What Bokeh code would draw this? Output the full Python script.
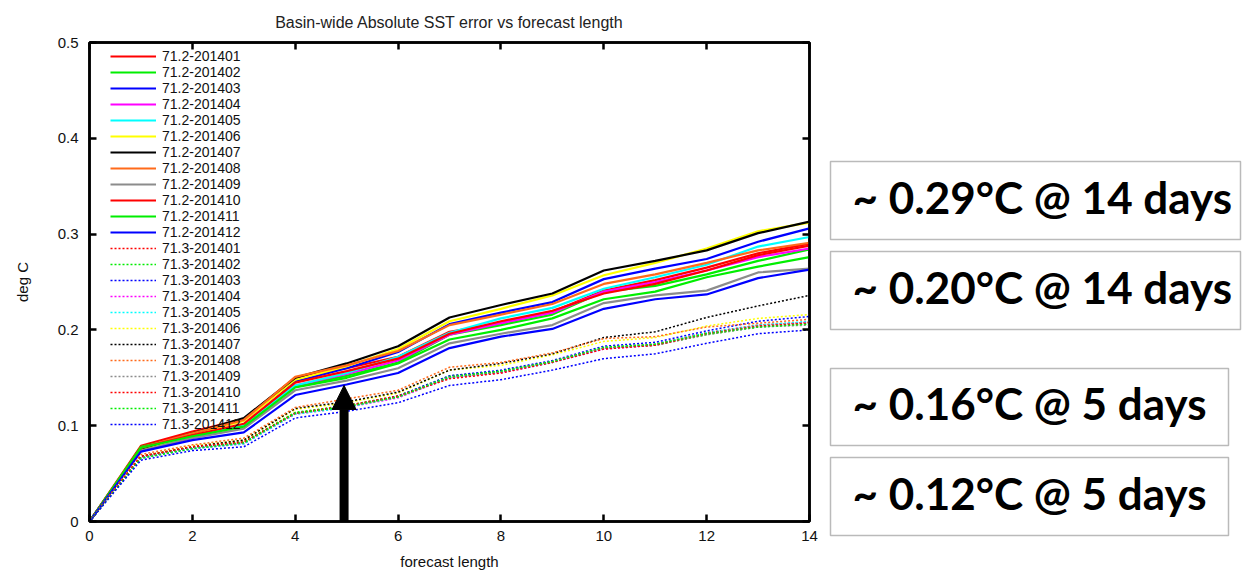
from bokeh.plotting import figure
from bokeh.layouts import row
from bokeh.models import (Range1d, LinearAxis, FixedTicker, Legend, LegendItem,
                          Arrow, NormalHead, Label, BoxAnnotation)
from bokeh.embed import file_html
from bokeh.resources import INLINE

# ---------------- data ----------------
forecast_days = [0, 1, 2, 3, 4, 5, 6, 7, 8, 9, 10, 11, 12, 13, 14]

names_712 = ["71.2-201401", "71.2-201402", "71.2-201403", "71.2-201404",
             "71.2-201405", "71.2-201406", "71.2-201407", "71.2-201408",
             "71.2-201409", "71.2-201410", "71.2-201411", "71.2-201412"]
names_713 = ["71.3-201401", "71.3-201402", "71.3-201403", "71.3-201404",
             "71.3-201405", "71.3-201406", "71.3-201407", "71.3-201408",
             "71.3-201409", "71.3-201410", "71.3-201411", "71.3-201412"]

month_colors = ["#ff0000", "#00ee00", "#0000ff", "#ff00ff", "#00ffff", "#ffff00",
                "#000000", "#ff6a1a", "#8c8c8c", "#ff0000", "#00ee00", "#0000ff"]

err_712 = [
    [0, 0.079, 0.094, 0.107, 0.150, 0.160, 0.172, 0.198, 0.207, 0.219, 0.241, 0.252, 0.265, 0.280, 0.290],
    [0, 0.078, 0.090, 0.101, 0.141, 0.152, 0.166, 0.195, 0.205, 0.216, 0.240, 0.246, 0.258, 0.272, 0.284],
    [0, 0.074, 0.090, 0.100, 0.146, 0.160, 0.177, 0.206, 0.218, 0.229, 0.253, 0.264, 0.274, 0.292, 0.306],
    [0, 0.075, 0.089, 0.100, 0.142, 0.154, 0.168, 0.195, 0.207, 0.218, 0.240, 0.250, 0.262, 0.276, 0.285],
    [0, 0.075, 0.088, 0.101, 0.142, 0.155, 0.172, 0.197, 0.212, 0.223, 0.243, 0.255, 0.268, 0.287, 0.297],
    [0, 0.075, 0.091, 0.105, 0.148, 0.162, 0.180, 0.209, 0.222, 0.236, 0.257, 0.270, 0.285, 0.303, 0.312],
    [0, 0.076, 0.092, 0.108, 0.150, 0.165, 0.183, 0.213, 0.226, 0.238, 0.262, 0.272, 0.283, 0.301, 0.313],
    [0, 0.077, 0.092, 0.106, 0.151, 0.163, 0.178, 0.205, 0.216, 0.227, 0.248, 0.258, 0.270, 0.283, 0.291],
    [0, 0.074, 0.087, 0.097, 0.137, 0.147, 0.160, 0.186, 0.196, 0.205, 0.228, 0.236, 0.241, 0.260, 0.264],
    [0, 0.077, 0.090, 0.102, 0.145, 0.157, 0.170, 0.196, 0.209, 0.220, 0.238, 0.248, 0.262, 0.278, 0.288],
    [0, 0.077, 0.089, 0.099, 0.140, 0.150, 0.165, 0.190, 0.200, 0.212, 0.232, 0.240, 0.255, 0.266, 0.276],
    [0, 0.073, 0.085, 0.093, 0.132, 0.143, 0.155, 0.181, 0.193, 0.201, 0.222, 0.232, 0.237, 0.254, 0.263],
]
err_713 = [
    [0, 0.068, 0.078, 0.083, 0.113, 0.120, 0.130, 0.150, 0.156, 0.167, 0.181, 0.185, 0.197, 0.205, 0.208],
    [0, 0.067, 0.077, 0.083, 0.114, 0.121, 0.131, 0.152, 0.157, 0.167, 0.181, 0.184, 0.195, 0.203, 0.207],
    [0, 0.067, 0.077, 0.082, 0.113, 0.120, 0.131, 0.152, 0.158, 0.168, 0.183, 0.187, 0.199, 0.209, 0.214],
    [0, 0.066, 0.076, 0.081, 0.112, 0.119, 0.129, 0.150, 0.155, 0.166, 0.180, 0.184, 0.196, 0.204, 0.208],
    [0, 0.066, 0.076, 0.081, 0.112, 0.119, 0.130, 0.150, 0.156, 0.166, 0.181, 0.185, 0.197, 0.205, 0.209],
    [0, 0.068, 0.079, 0.085, 0.117, 0.124, 0.134, 0.158, 0.163, 0.174, 0.188, 0.192, 0.204, 0.212, 0.216],
    [0, 0.068, 0.078, 0.085, 0.118, 0.125, 0.135, 0.158, 0.165, 0.175, 0.192, 0.198, 0.213, 0.225, 0.236],
    [0, 0.070, 0.080, 0.087, 0.119, 0.128, 0.137, 0.161, 0.166, 0.176, 0.191, 0.193, 0.203, 0.207, 0.211],
    [0, 0.067, 0.077, 0.082, 0.113, 0.120, 0.130, 0.151, 0.156, 0.167, 0.181, 0.184, 0.195, 0.203, 0.205],
    [0, 0.068, 0.078, 0.083, 0.113, 0.121, 0.131, 0.149, 0.155, 0.166, 0.180, 0.184, 0.196, 0.204, 0.207],
    [0, 0.066, 0.076, 0.082, 0.113, 0.120, 0.130, 0.151, 0.157, 0.167, 0.182, 0.185, 0.196, 0.203, 0.206],
    [0, 0.064, 0.074, 0.078, 0.108, 0.115, 0.124, 0.142, 0.148, 0.158, 0.170, 0.175, 0.186, 0.196, 0.200],
]

x_ticks = [0, 2, 4, 6, 8, 10, 12, 14]
y_ticks = [0, 0.1, 0.2, 0.3, 0.4, 0.5]
y_tick_labels = ["0", "0.1", "0.2", "0.3", "0.4", "0.5"]

callout_texts = ["~ 0.29\u00b0C @ 14 days", "~ 0.20\u00b0C @ 14 days",
                 "~ 0.16\u00b0C @ 5 days", "~ 0.12\u00b0C @ 5 days"]

arrow_day = 4.95
arrow_tip = 0.142

# ---------------- main chart ----------------
FONT = "Liberation Sans"

p = figure(width=818, height=572, x_range=Range1d(0, 14), y_range=Range1d(0, 0.5),
           output_backend="svg", toolbar_location=None,
           min_border_left=89, min_border_right=9, min_border_top=42, min_border_bottom=51,
           title="Basin-wide Absolute SST error vs forecast length")
p.title.align = "center"
p.title.text_font = FONT
p.title.text_font_style = "normal"
p.title.text_font_size = "16px"
p.title.text_color = "#222222"
p.title.standoff = 23

p.xgrid.visible = False
p.ygrid.visible = False
p.outline_line_color = "black"
p.outline_line_width = 2.5
p.background_fill_color = "white"
p.border_fill_color = "white"


def style_axis(ax, ticks, show_labels):
    ax.ticker = FixedTicker(ticks=ticks)
    ax.axis_line_color = "black"
    ax.axis_line_width = 2.5
    ax.major_tick_in = 7
    ax.major_tick_out = 0
    ax.major_tick_line_width = 2.5
    ax.major_tick_line_color = "black"
    ax.minor_tick_line_color = None
    ax.major_label_text_font = FONT
    ax.major_label_text_font_size = "15px"
    ax.major_label_text_color = "#111111"
    if not show_labels:
        ax.major_label_overrides = {t: "" for t in ticks}
        ax.major_label_text_font_size = "1px"
        ax.major_label_standoff = 0


style_axis(p.xaxis[0], x_ticks, True)
style_axis(p.yaxis[0], y_ticks, True)
p.yaxis[0].major_label_overrides = {t: s for t, s in zip(y_ticks, y_tick_labels)}
p.xaxis[0].major_label_standoff = 9
p.yaxis[0].major_label_standoff = 11

p.xaxis[0].axis_label = "forecast length"
p.yaxis[0].axis_label = "deg C"
for ax in (p.xaxis[0], p.yaxis[0]):
    ax.axis_label_text_font = FONT
    ax.axis_label_text_font_style = "normal"
    ax.axis_label_text_font_size = "15px"
    ax.axis_label_text_color = "#111111"
p.xaxis[0].axis_label_standoff = 9
p.yaxis[0].axis_label_standoff = 24

top_ax = LinearAxis()
style_axis(top_ax, x_ticks, False)
p.add_layout(top_ax, "above")
right_ax = LinearAxis()
style_axis(right_ax, y_ticks, False)
p.add_layout(right_ax, "right")

items = []
for name, col, vals in zip(names_712, month_colors, err_712):
    r = p.line(forecast_days, vals, line_color=col, line_width=2.2)
    items.append(LegendItem(label=name, renderers=[r]))
for name, col, vals in zip(names_713, month_colors, err_713):
    r = p.line(forecast_days, vals, line_color=col, line_width=1.5, line_dash="2 2")
    items.append(LegendItem(label=name, renderers=[r]))

legend = Legend(items=items, location=(17, 85), glyph_width=46, glyph_height=16,
                label_height=16, spacing=0, padding=4, margin=0, label_standoff=6,
                label_text_font=FONT, label_text_font_size="14px",
                label_text_color="#111111",
                background_fill_alpha=0, border_line_alpha=0)
p.add_layout(legend)

p.add_layout(Arrow(end=NormalHead(size=24, fill_color="black", line_color="black"),
                   x_start=arrow_day, y_start=0, x_end=arrow_day, y_end=arrow_tip,
                   line_width=9, line_color="black"))

# ---------------- callout panel ----------------
# panel coordinates: x in pixels from panel left, y in pixels from page top
q = figure(width=425, height=572, x_range=Range1d(0, 425), y_range=Range1d(572, 0),
           output_backend="svg", toolbar_location=None,
           min_border_left=0, min_border_right=0, min_border_top=0, min_border_bottom=0)
try:
    q.frame_align = False
except AttributeError:
    pass
q.axis.visible = False
q.xgrid.visible = False
q.ygrid.visible = False
q.outline_line_color = None
q.background_fill_color = "white"
q.border_fill_color = "white"

box_geom = [(12, 422, 161, 239), (12, 422, 251, 329),
            (12, 410, 368, 445), (12, 410, 457, 535)]
for (l, r_, t, b), txt in zip(box_geom, callout_texts):
    q.add_layout(BoxAnnotation(left=l, right=r_, top=t, bottom=b,
                               fill_alpha=0, line_color="#1a1a1a", line_width=1.5))
    q.add_layout(Label(x=34, y=(t + b) / 2 - 4, text=txt, text_font="Lato",
                       text_font_style="bold", text_font_size="44px",
                       text_baseline="middle", text_color="black"))

layout = row(p, q)
open("out.html", "w").write(file_html(layout, INLINE))
